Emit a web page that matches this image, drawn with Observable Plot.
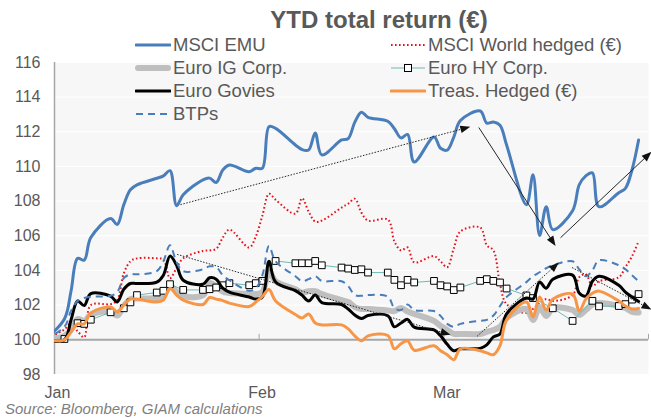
<!DOCTYPE html>
<html>
<head>
<meta charset="utf-8">
<script src="https://cdn.jsdelivr.net/npm/d3@7"></script>
<script src="https://cdn.jsdelivr.net/npm/@observablehq/plot@0.6"></script>
<style>
  html, body { margin: 0; padding: 0; background: #fff; }
  #wrap { position: relative; width: 651px; height: 418px; overflow: hidden; font-family: "Liberation Sans", Arial, sans-serif; }
  #wrap > svg { position: absolute; left: 0; top: 0; }
  #title { position: absolute; left: 379px; top: 8px; transform: translateX(-50%); white-space: nowrap;
           font-weight: bold; font-size: 24px; line-height: 24px; color: #595959; }
  .leg { position: absolute; height: 20px; display: flex; align-items: center; white-space: nowrap;
         font-size: 18.5px; color: #595959; }
  .leg svg { display: block; margin-right: 2px; flex: none; }
  #caption { position: absolute; left: 5px; top: 401px; font-size: 15px; line-height: 15px; font-style: italic; color: #7f7f7f; white-space: nowrap; }
</style>
</head>
<body>
<div id="wrap"></div>
<script>
// ---------- data ----------
const dates = ["2022-12-30",
  "2023-01-02","2023-01-03","2023-01-04","2023-01-05","2023-01-06","2023-01-09","2023-01-10","2023-01-11","2023-01-12","2023-01-13",
  "2023-01-16","2023-01-17","2023-01-18","2023-01-19","2023-01-20","2023-01-23","2023-01-24","2023-01-25","2023-01-26","2023-01-27",
  "2023-01-30","2023-01-31",
  "2023-02-01","2023-02-02","2023-02-03","2023-02-06","2023-02-07","2023-02-08","2023-02-09","2023-02-10","2023-02-13","2023-02-14",
  "2023-02-15","2023-02-16","2023-02-17","2023-02-20","2023-02-21","2023-02-22","2023-02-23","2023-02-24","2023-02-27","2023-02-28",
  "2023-03-01","2023-03-02","2023-03-03","2023-03-06","2023-03-07","2023-03-08","2023-03-09","2023-03-10","2023-03-13","2023-03-14",
  "2023-03-15","2023-03-16","2023-03-17","2023-03-20","2023-03-21","2023-03-22","2023-03-23","2023-03-24","2023-03-27","2023-03-28",
  "2023-03-29","2023-03-30"];

const msciEmu = [100,
  101.2,102.8,104.7,104.6,105.9,107.0,106.65,107.8,108.66,108.94,
  109.32,109.46,109.76,107.74,108.37,109.23,109.33,109.08,109.8,110.09,
  109.7,109.9,
  109.9,112.3,112.2,111.24,110.98,110.95,111.93,110.67,111.53,111.61,
  112.56,113.13,112.84,112.61,112.18,111.65,111.85,110.26,111.7,111.05,
  110.95,111.7,112.65,113.2,112.5,112.57,112.38,111.24,107.8,109.52,
  106.02,107.68,106.36,107.45,108.94,109.46,109.63,107.68,108.49,108.74,
  109.8,111.53];

const msciWorld = [100,
  100.6,100.95,100.5,100.15,102.0,102.06,102.29,103.84,104.53,104.7,
  104.7,104.64,103.55,104.15,104.7,105.13,105.16,105.25,105.9,106.36,
  105.33,105.96,
  107.17,108.43,108.08,107.28,108.17,107.4,106.82,106.88,107.63,107.85,
  108.14,107.34,106.88,106.94,105.68,105.16,105.33,104.47,104.83,104.53,
  104.19,105.28,106.25,106.48,105.45,105.16,103.21,102.06,101.55,101.78,
  102.12,102.35,102.24,102.58,103.61,103.78,103.1,103.38,103.61,104.19,
  104.82,105.69];

const euroIG = [100,
  100.23,100.57,101.2,101.09,101.43,101.65,101.4,101.95,102.35,102.38,
  102.41,102.52,103.07,102.78,102.52,102.58,103.27,103.1,102.78,102.7,
  102.64,102.64,
  102.75,103.96,103.38,102.92,102.72,102.81,102.81,102.64,102.29,102.18,
  101.89,101.78,101.78,101.69,101.66,101.83,101.63,101.49,101.09,100.8,
  100.57,100.34,100.34,100.34,100.46,100.57,100.75,101.26,101.78,101.15,
  101.89,101.38,101.83,101.72,101.43,101.72,102.04,102.12,101.95,101.83,
  101.61,101.58];

const euroHY = [100,
  100.05,null,100.96,100.92,101.16,101.59,null,101.82,102.16,102.58,
  102.73,102.83,103.21,null,102.88,102.88,102.92,103.02,103.15,103.27,
  103.15,103.27,
  103.4,null,104.55,104.42,104.42,104.42,104.55,104.3,104.17,104.11,
  104.03,104.07,103.88,103.88,103.46,103.15,103.46,103.31,103.4,103.15,
  103.08,102.87,103.02,103.4,103.5,103.4,103.31,102.96,102.56,102.41,
  null,null,101.82,101.09,null,null,102.25,101.93,101.95,102.06,
  102.32,102.64];

const euroGovies = [100,
  100.0,101.15,102.24,101.98,102.67,102.52,102.18,102.92,103.25,103.25,
  103.33,103.73,104.83,104.3,103.44,103.21,103.58,103.5,102.98,102.75,
  102.47,102.35,
  102.47,104.53,103.33,102.84,102.58,102.24,102.58,102.15,102.04,101.78,
  101.43,101.23,101.4,101.39,100.75,100.97,101.18,100.73,100.57,100.23,
  99.74,99.37,99.48,99.51,99.71,100.17,100.34,101.5,102.41,102.35,
  103.33,102.98,103.5,103.73,102.7,102.52,103.38,103.67,103.15,102.75,
  102.47,102.21];

const treasHedged = [100,
  100.0,100.46,100.92,100.92,101.55,101.89,101.61,102.0,102.35,102.35,
  102.18,102.29,102.98,102.58,102.29,102.04,102.44,102.35,102.26,102.12,
  101.92,102.18,
  102.5,102.9,102.24,101.46,101.26,101.49,100.97,100.86,100.86,100.63,
  100.23,99.94,100.23,100.25,99.48,99.77,99.94,99.4,99.66,99.37,
  99.14,98.85,99.48,99.37,99.25,99.14,99.66,101.15,102.18,101.32,
  102.47,101.72,102.35,102.64,101.66,102.35,102.69,102.81,102.24,101.95,
  101.78,101.81];

const btps = [100,
  100.75,101.66,102.24,102.41,102.49,102.54,102.75,103.56,103.78,103.78,
  103.96,104.53,105.45,104.47,103.96,104.07,104.24,104.19,103.73,103.44,
  102.83,102.98,
  103.73,105.41,104.53,103.67,103.38,103.5,103.67,103.4,103.38,103.1,
  102.58,102.54,102.58,102.49,101.83,101.72,102.04,101.72,101.66,101.38,
  100.92,100.75,100.92,101.1,101.15,101.4,101.95,102.47,103.33,103.67,
  103.9,104.13,104.3,104.53,104.07,103.67,104.01,104.59,104.3,104.07,
  103.73,103.38];

const yTicks = [98,100,102,104,106,108,110,112,114,116];
const monthTicks = ["2023-01-01","2023-02-01","2023-03-01"];
const monthLabels = ["Jan","Feb","Mar"];
const axisEndTicks = ["2023-02-01","2023-03-01","2023-04-01"];

// annotation arrows (date, value)
const arrowFrom = [["2023-01-20T02:00Z",107.8],["2023-03-06T07:00Z",112.25],["2023-03-18T16:00Z",105.89],
                   ["2023-01-19T14:00Z",104.93],["2023-03-06T01:00Z",100.21],["2023-03-20T10:00Z",104.17]];
const arrowTo   = [["2023-03-05T00:00Z",112.29],["2023-03-17T22:00Z",105.41],["2023-04-01T11:00Z",110.85],
                   ["2023-03-02T00:00Z",100.29],["2023-03-18T10:00Z",104.46],["2023-04-01T11:00Z",101.74]];
const arrowDotted = [true,false,false,true,true,true];

const legendNames = ["MSCI EMU","MSCI World hedged (€)","Euro IG Corp.","Euro HY Corp.","Euro Govies","Treas. Hedged (€)","BTPs"];

// ---------- helpers ----------
const HALF_DAY = 12 * 3600 * 1000;
const toRows = vals => dates.map((d, i) => ({date: new Date(Date.parse(d + "T00:00:00Z") + HALF_DAY), v: vals[i]}))
                            .filter(r => r.v != null);
const utc = s => new Date(s.length === 10 ? s + "T00:00:00Z" : s);

const FONT = "'Liberation Sans', Arial, sans-serif";
const base = {
  width: 651, height: 418,
  marginTop: 62, marginRight: 3, marginBottom: 44, marginLeft: 54,
  x: {type: "utc", domain: [utc("2023-01-01"), utc("2023-04-01")]},
  y: {domain: [98, 116]},
  style: {fontFamily: FONT, background: "transparent", overflow: "visible"}
};

const probe = Plot.plot({...base, marks: [Plot.ruleX(monthTicks.map(utc)), Plot.ruleY(yTicks)]});
const X = probe.scale("x"), Y = probe.scale("y");

// arrow geometry: shaft + filled triangular head (computed in pixel space, inverted to data)
const shafts = [], heads = [];
arrowFrom.forEach((f, i) => {
  const t = arrowTo[i];
  const x1 = X.apply(utc(f[0])), y1 = Y.apply(f[1]);
  const x2 = X.apply(utc(t[0])), y2 = Y.apply(t[1]);
  const len = Math.hypot(x2 - x1, y2 - y1);
  const ux = (x2 - x1) / len, uy = (y2 - y1) / len;
  const L = 10, W = 3.8;
  const bx = x2 - ux * L, by = y2 - uy * L;
  shafts.push({x1: utc(f[0]), y1: f[1], x2: X.invert(bx + ux * 2), y2: Y.invert(by + uy * 2), dotted: arrowDotted[i]});
  [[x2, y2], [bx - uy * W, by + ux * W], [bx + uy * W, by - ux * W]].forEach(p =>
    heads.push({id: i, x: X.invert(p[0]), y: Y.invert(p[1])}));
});

const blue = "#4a7ebb", red = "#e8111a", grey = "#bfbfbf", teal = "#6fb8b4", orange = "#f79646";
const lineOpts = {x: "date", y: "v", curve: "catmull-rom", clip: true, strokeLinejoin: "round", strokeLinecap: "round"};

const chart = Plot.plot({
  ...base,
  marks: [
    Plot.frame({fill: "#f7f7f7", stroke: "none"}),
    Plot.ruleY(yTicks, {stroke: "#ffffff", strokeWidth: 1}),
    Plot.ruleX([utc("2023-01-01")], {stroke: "#a6a6a6", strokeWidth: 1.5}),
    Plot.ruleY([100], {stroke: "#a6a6a6", strokeWidth: 2}),
    Plot.ruleX(axisEndTicks.map(utc), {y1: 100, y2: 100.32, stroke: "#a6a6a6", strokeWidth: 1}),
    Plot.axisY(yTicks, {tickSize: 0, tickPadding: 14, fontSize: 16, fill: "#595959", label: null}),
    Plot.axisX(monthTicks.map(utc), {tickSize: 0, tickPadding: 12, fontSize: 16, fill: "#595959", dx: 3, label: null,
      tickFormat: d => monthLabels[monthTicks.findIndex(m => +utc(m) === +d)]}),
    // series
    Plot.line(toRows(msciEmu), {...lineOpts, stroke: blue, strokeWidth: 3}),
    Plot.line(toRows(msciWorld), {...lineOpts, stroke: red, strokeWidth: 2, strokeDasharray: "1.6,2.4", strokeLinecap: "butt"}),
    Plot.line(toRows(euroIG), {...lineOpts, stroke: grey, strokeWidth: 6}),
    Plot.line(toRows(euroHY), {...lineOpts, curve: "linear", stroke: teal, strokeWidth: 1}),
    Plot.dot(toRows(euroHY), {x: "date", y: "v", symbol: "square", r: 3.8, fill: "white", stroke: "black", strokeWidth: 1, clip: true}),
    Plot.line(toRows(euroGovies), {...lineOpts, stroke: "black", strokeWidth: 3}),
    Plot.line(toRows(treasHedged), {...lineOpts, stroke: orange, strokeWidth: 3}),
    Plot.line(toRows(btps), {...lineOpts, stroke: blue, strokeWidth: 2, strokeDasharray: "7,5", strokeLinecap: "butt"}),
    // annotation arrows
    Plot.link(shafts.filter(d => d.dotted), {x1: "x1", y1: "y1", x2: "x2", y2: "y2", stroke: "#262626", strokeWidth: 1, strokeDasharray: "1.5,1.5"}),
    Plot.link(shafts.filter(d => !d.dotted), {x1: "x1", y1: "y1", x2: "x2", y2: "y2", stroke: "#262626", strokeWidth: 1}),
    Plot.line(heads, {x: "x", y: "y", z: "id", fill: "#111", stroke: "none", curve: "linear"})
  ]
});

// ---------- layout: chart + title + legend + caption ----------
const wrap = document.getElementById("wrap");
wrap.appendChild(chart);

const title = document.createElement("div");
title.id = "title";
title.textContent = "YTD total return (€)";
wrap.appendChild(title);

const sw = inner => `<svg width="36" height="20" viewBox="0 0 36 20">${inner}</svg>`;
const swatches = [
  sw(`<line x1="1" y1="10" x2="35" y2="10" stroke="${blue}" stroke-width="3" stroke-linecap="round"/>`),
  sw(`<line x1="1" y1="10" x2="35" y2="10" stroke="${red}" stroke-width="2" stroke-dasharray="1.6,2.4"/>`),
  sw(`<line x1="3" y1="10" x2="33" y2="10" stroke="${grey}" stroke-width="6" stroke-linecap="round"/>`),
  sw(`<line x1="1" y1="10" x2="35" y2="10" stroke="${teal}" stroke-width="1"/><rect x="14.5" y="6.5" width="7" height="7" fill="white" stroke="black" stroke-width="1"/>`),
  sw(`<line x1="1" y1="10" x2="35" y2="10" stroke="black" stroke-width="3" stroke-linecap="round"/>`),
  sw(`<line x1="1" y1="10" x2="35" y2="10" stroke="${orange}" stroke-width="3" stroke-linecap="round"/>`),
  sw(`<line x1="1" y1="10" x2="35" y2="10" stroke="${blue}" stroke-width="2" stroke-dasharray="7,5"/>`)
];
const legendRowsY = [45, 68, 91, 114];
const legendColsX = [135, 390];
legendNames.forEach((name, i) => {
  const el = document.createElement("div");
  el.className = "leg";
  el.style.left = legendColsX[i % 2] + "px";
  el.style.top = (legendRowsY[Math.floor(i / 2)] - 10) + "px";
  el.innerHTML = swatches[i] + `<span>${name}</span>`;
  wrap.appendChild(el);
});

const cap = document.createElement("div");
cap.id = "caption";
cap.textContent = "Source: Bloomberg, GIAM calculations";
wrap.appendChild(cap);
</script>
</body>
</html>
